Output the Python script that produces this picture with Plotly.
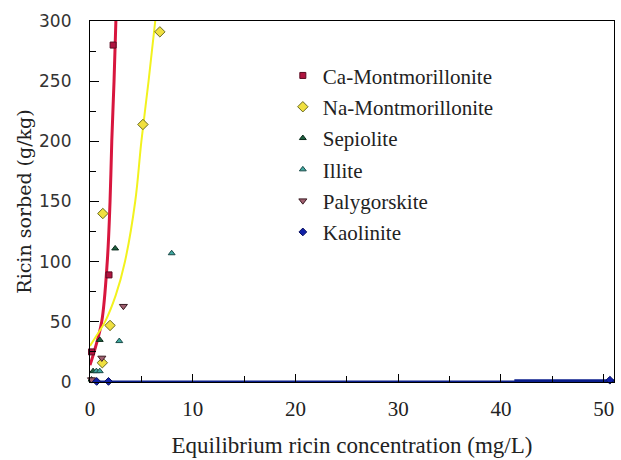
import plotly.graph_objects as go

# ---- data ----
ca_x = [0.15, 1.85, 2.25]
ca_y = [25, 89, 280]
na_x = [1.2, 1.25, 1.95, 5.15, 6.8]
na_y = [16, 140, 47, 214, 291]
sep_x = [0.15, 0.3, 0.95, 2.45]
sep_y = [2, 9, 35, 111]
ill_x = [0.62, 0.95, 2.85, 7.95]
ill_y = [9, 9, 34, 107]
pal_x = [0.15, 1.15, 3.25]
pal_y = [2, 20, 63]
kao_x = [0.65, 1.8, 50.6]
kao_y = [0.5, 0.5, 1.5]

# fitted curves
ca_fit_x = [0.0, 0.5, 1.14, 1.68, 1.95, 2.12, 2.34, 2.52]
ca_fit_y = [14, 28, 50, 100, 150, 200, 250, 300]
na_fit_x = [0.0, 0.6, 1.46, 2.5, 3.4, 4.4, 5.0, 5.7, 6.35]
na_fit_y = [30, 38, 50, 72, 100, 150, 200, 250, 300]
kao_fit_x = [0, 41.3, 51]
kao_fit_y = [0.3, 0.3, 0.3]
kao_fit2_x = [41.3, 51]
kao_fit2_y = [1.2, 1.2]

names = ["Ca-Montmorillonite", "Na-Montmorillonite", "Sepiolite",
         "Illite", "Palygorskite", "Kaolinite"]

serif = "Liberation Serif"

fig = go.Figure()

# fit lines
fig.add_trace(go.Scatter(x=ca_fit_x, y=ca_fit_y, mode="lines", line=dict(color="#D8163E", width=3, shape="spline"),
                         showlegend=False, hoverinfo="skip"))
fig.add_trace(go.Scatter(x=na_fit_x, y=na_fit_y, mode="lines", line=dict(color="#F2F21E", width=2, shape="spline"),
                         showlegend=False, hoverinfo="skip"))
fig.add_trace(go.Scatter(x=kao_fit_x, y=kao_fit_y, mode="lines", line=dict(color="#0A1E8C", width=2.5),
                         showlegend=False, hoverinfo="skip", cliponaxis=False))
fig.add_trace(go.Scatter(x=kao_fit2_x, y=kao_fit2_y, mode="lines", line=dict(color="#0A1E8C", width=2.5),
                         showlegend=False, hoverinfo="skip", cliponaxis=False))

marker_specs = [
    (ca_x, ca_y, "square", "#B01440", "#5A0A20", 6),
    (na_x, na_y, "diamond", "#F0E040", "#6A6A20", 8),
    (sep_x, sep_y, "triangle-up", "#1E6040", "#0A2A1A", 6),
    (ill_x, ill_y, "triangle-up", "#40A8A0", "#1A4A48", 6),
    (pal_x, pal_y, "triangle-down", "#A06070", "#3A1A22", 7),
    (kao_x, kao_y, "diamond", "#1020A8", "#0A1060", 6),
]
for i, (xs, ys, sym, fill, edge, sz) in enumerate(marker_specs):
    fig.add_trace(go.Scatter(
        x=xs, y=ys, mode="markers", name=names[i], legendgroup=f"g{i}",
        marker=dict(symbol=sym, color=fill, size=sz, line=dict(color=edge, width=1)),
        cliponaxis=False,
    ))

fig.update_layout(
    width=621, height=460,
    margin=dict(l=90, r=7, t=21, b=78),
    paper_bgcolor="white", plot_bgcolor="white",
    legend=dict(x=0.368, y=0.905, xanchor="left", yanchor="top",
                font=dict(family=serif, size=21, color="#222"),
                tracegroupgap=1, bgcolor="rgba(0,0,0,0)", itemsizing="trace"),
    xaxis=dict(
        range=[0, 51], showgrid=False, zeroline=False,
        showline=True, linecolor="black", linewidth=1.2, mirror=True,
        ticks="inside", ticklen=8, tickcolor="black", dtick=10, tick0=0,
        minor=dict(ticks="inside", ticklen=6, dtick=5, tickcolor="black"),
        tickfont=dict(family=serif, size=21, color="#222"),
        ticklabelstandoff=8,
        title=dict(text="Equilibrium ricin concentration (mg/L)",
                   font=dict(family=serif, size=23, color="#222"), standoff=16),
    ),
    yaxis=dict(
        range=[0, 300], showgrid=False, zeroline=False,
        showline=True, linecolor="black", linewidth=1.2, mirror=True,
        ticks="inside", ticklen=9, tickcolor="black", dtick=50, tick0=0,
        minor=dict(ticks="inside", ticklen=6, dtick=25, tickcolor="black"),
        tickfont=dict(family="DejaVu Sans", size=17, color="#333"),
        ticklabelstandoff=14,
        title=dict(text="Ricin sorbed (g/kg)",
                   font=dict(family="DejaVu Serif", size=19, color="#222"), standoff=2),
    ),
)

fig.write_html("out.html", config={"displayModeBar": False},
               post_script="document.body.style.margin='0';")
